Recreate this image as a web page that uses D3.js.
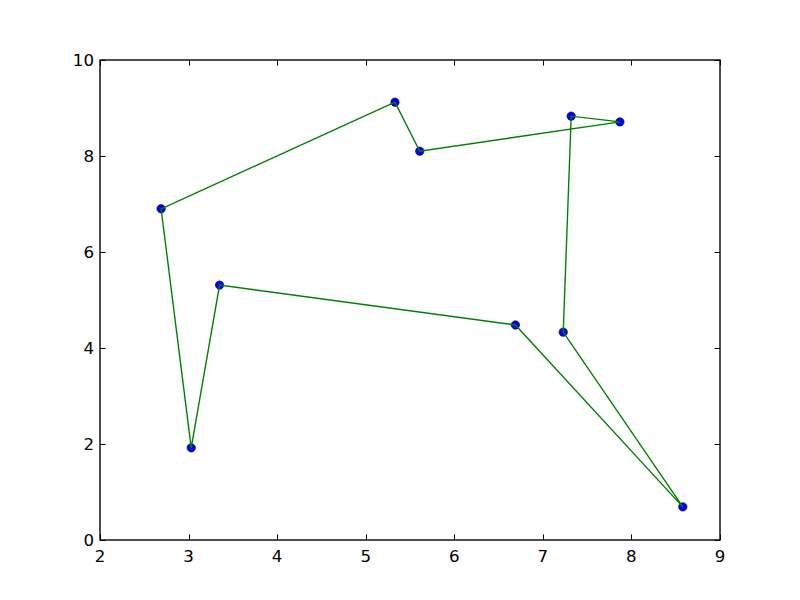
<!DOCTYPE html>
<html><head><meta charset="utf-8">
<script src="https://cdn.jsdelivr.net/npm/d3@7"></script>
<style>body{margin:0;background:#fff}svg{display:block}text{font-family:"DejaVu Sans";}</style>
</head><body>
<script>
const xs = [8.58, 7.23, 7.32, 7.87, 5.61, 5.33, 2.69, 3.03, 3.35, 6.69];
const ys = [0.69, 4.33, 8.83, 8.71, 8.10, 9.12, 6.90, 1.92, 5.31, 4.48];
const xTicks = [2, 3, 4, 5, 6, 7, 8, 9];
const yTicks = [0, 2, 4, 6, 8, 10];

const W = 800, H = 600;
const m = {l: 100, r: 80, t: 60, b: 60};
const svg = d3.select("body").append("svg").attr("width", W).attr("height", H);
const x = d3.scaleLinear().domain([2, 9]).range([m.l, W - m.r]);
const y = d3.scaleLinear().domain([0, 10]).range([H - m.b, m.t]);
const pts = xs.map((v, i) => [v, ys[i]]);

const fs = "16.67px";
const tl = 5.5;
// ticks
const g = svg.append("g").attr("stroke", "#000").attr("stroke-width", 1);
xTicks.forEach(t => {
  const px = Math.round(x(t)) + 0.5;
  g.append("line").attr("x1", px).attr("x2", px).attr("y1", y(0)).attr("y2", y(0) - tl);
  g.append("line").attr("x1", px).attr("x2", px).attr("y1", y(10)).attr("y2", y(10) + tl);
});
yTicks.forEach(t => {
  const py = Math.round(y(t)) + 0.5;
  g.append("line").attr("x1", x(2)).attr("x2", x(2) + tl).attr("y1", py).attr("y2", py);
  g.append("line").attr("x1", x(9)).attr("x2", x(9) - tl).attr("y1", py).attr("y2", py);
});
svg.append("g").selectAll("text").data(xTicks).join("text")
  .attr("x", d => x(d)).attr("y", y(0) + 22).attr("text-anchor", "middle")
  .attr("font-size", fs).text(d => d);
svg.append("g").selectAll("text").data(yTicks).join("text")
  .attr("x", x(2) - 6).attr("y", d => y(d) + 6).attr("text-anchor", "end")
  .attr("font-size", fs).text(d => d);

// markers
svg.append("g").selectAll("circle").data(pts).join("circle")
  .attr("cx", d => x(d[0])).attr("cy", d => y(d[1])).attr("r", 4.2)
  .attr("fill", "#0000ff").attr("stroke", "#000").attr("stroke-width", 0.6);

// line (closed)
svg.append("path").datum(pts.concat([pts[0]]))
  .attr("d", d3.line().x(d => x(d[0])).y(d => y(d[1])))
  .attr("fill", "none").attr("stroke", "#008000").attr("stroke-width", 1.39);

// frame
svg.append("rect").attr("x", x(2)).attr("y", y(10)).attr("width", x(9) - x(2)).attr("height", y(0) - y(10))
  .attr("fill", "none").attr("stroke", "#000").attr("stroke-width", 1.39);
</script>
</body></html>
